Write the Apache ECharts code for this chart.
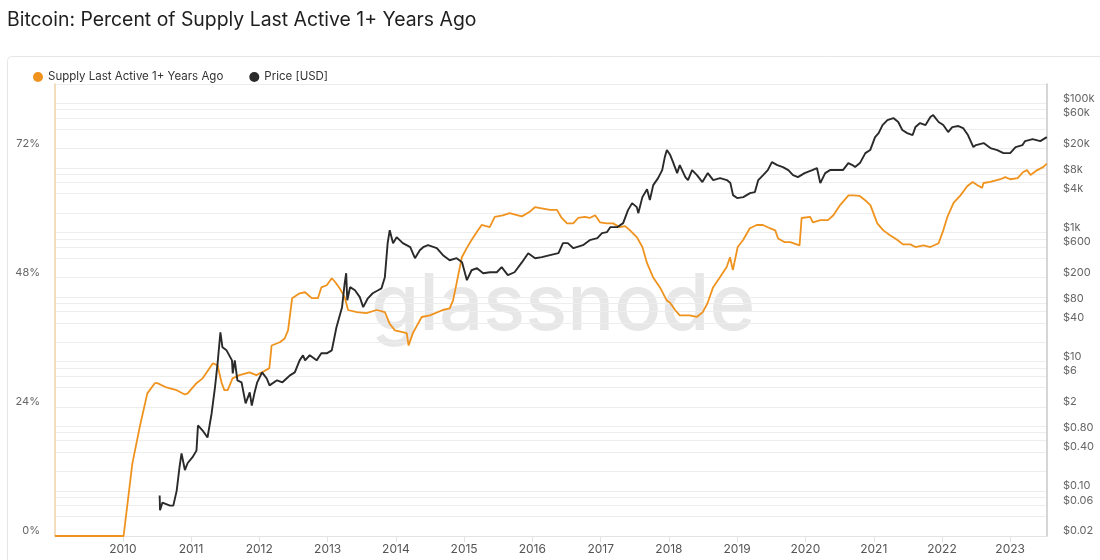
<!DOCTYPE html>
<html>
<head>
<meta charset="utf-8">
<script src="https://cdn.jsdelivr.net/npm/echarts@6/dist/echarts.min.js"></script>
<style>
html, body { margin: 0; padding: 0; background: #fff; }
#chart { width: 1100px; height: 560px; }
</style>
</head>
<body>
<div id="chart"></div>
<script>
// share of supply last moved 1+ years ago, in %
var supplyDates = ['2009-01-03','2010-01-05','2010-02-21','2010-04-01','2010-05-12','2010-06-21','2010-07-05','2010-08-22','2010-10-16','2010-11-29','2010-12-14',
	'2011-01-30','2011-03-04','2011-04-28','2011-05-23','2011-06-14','2011-06-28','2011-07-16','2011-08-11','2011-09-17','2011-11-10','2011-12-16',
	'2012-01-15','2012-02-24','2012-03-07','2012-04-20','2012-05-16','2012-06-03','2012-06-25','2012-08-04','2012-09-02','2012-10-08','2012-11-10','2012-11-28','2012-12-27',
	'2013-01-23','2013-02-10','2013-03-07','2013-04-02','2013-04-20','2013-06-06','2013-07-27','2013-09-20','2013-11-03','2013-11-28','2013-12-27',
	'2014-02-06','2014-02-28','2014-03-10','2014-04-02','2014-05-19','2014-07-02','2014-09-09','2014-10-16','2014-11-03','2014-11-22','2014-12-20',
	'2015-01-15','2015-02-10','2015-03-10','2015-04-05','2015-05-18','2015-06-14','2015-07-27','2015-09-02','2015-10-16','2015-11-06','2015-12-16',
	'2016-01-15','2016-02-20','2016-04-05','2016-05-12','2016-06-06','2016-07-05','2016-08-07','2016-09-02','2016-10-08','2016-11-03','2016-12-02','2016-12-28',
	'2017-02-03','2017-03-08','2017-04-12','2017-05-12','2017-06-07','2017-07-14','2017-08-12','2017-09-06','2017-10-08','2017-11-14','2017-12-20',
	'2018-01-08','2018-02-03','2018-02-28','2018-04-22','2018-05-30','2018-07-01','2018-07-27','2018-08-25','2018-10-01','2018-11-06','2018-11-24','2018-12-09',
	'2019-01-04','2019-02-02','2019-03-10','2019-04-16','2019-05-19','2019-06-25','2019-07-24','2019-08-08','2019-09-13','2019-10-12','2019-12-01','2019-12-12',
	'2020-01-27','2020-02-10','2020-03-22','2020-05-01','2020-05-30','2020-07-05','2020-08-19','2020-09-12','2020-10-18','2020-11-16','2020-12-14',
	'2021-01-20','2021-02-21','2021-03-29','2021-05-08','2021-06-06','2021-07-16','2021-08-12','2021-09-24','2021-10-31','2021-12-14',
	'2022-01-08','2022-01-30','2022-03-04','2022-04-10','2022-05-16','2022-06-14','2022-07-10','2022-08-04','2022-08-11','2022-09-17','2022-11-10','2022-12-06',
	'2023-01-01','2023-02-10','2023-03-10','2023-04-01','2023-04-20','2023-05-26','2023-06-28','2023-07-16'];
var supplyPct = [0,0,13.5,20.2,26.5,28.4,28.4,27.6,27.1,26.3,26.5,
	28.4,29.3,32.1,31.7,28.4,27.1,27.1,29.3,29.9,30.4,29.9,
	30.4,31.2,35.4,36.0,36.7,38.2,44.2,45.1,45.3,44.2,44.2,46.2,46.6,
	47.9,47.2,46.0,44.4,42.0,41.6,41.4,42.0,41.6,39.5,38.2,
	37.9,37.7,35.4,37.7,40.7,41.0,42.0,42.3,43.8,47.0,51.8,
	53.5,55.0,56.5,57.8,57.4,59.3,59.6,60.0,59.6,59.4,60.2,
	61.1,60.9,60.6,60.6,59.1,58.1,58.1,59.1,59.3,59.1,59.6,58.3,
	58.1,58.1,57.4,57.6,56.8,55.5,53.7,50.7,48.1,46.2,43.8,
	43.3,42.0,41.0,41.0,40.7,41.6,43.3,46.2,48.1,50.0,51.8,49.4,
	53.7,55.0,57.2,57.8,57.8,57.2,56.8,55.3,54.6,54.6,54.0,59.1,
	59.3,58.3,58.7,58.7,59.6,61.5,63.3,63.3,63.2,62.4,61.5,
	58.1,56.8,55.9,55.0,54.2,54.2,53.7,54.0,53.7,54.4,
	56.8,59.3,61.9,63.3,65.0,65.8,65.2,64.7,65.6,65.8,66.3,66.7,
	66.3,66.5,67.6,68.0,67.1,68.0,68.6,69.2];

// BTC price, USD
var priceDates = ['2010-07-17','2010-07-19','2010-08-01','2010-09-10','2010-09-28','2010-10-16','2010-10-31','2010-11-11','2010-11-29','2010-12-14',
	'2011-01-08','2011-01-30','2011-02-07','2011-03-04','2011-03-30','2011-04-21','2011-05-09','2011-05-23','2011-06-07','2011-06-18','2011-07-10','2011-08-08','2011-08-12','2011-08-23','2011-09-06','2011-09-28','2011-10-20','2011-11-11','2011-11-22','2011-12-06','2011-12-21',
	'2012-01-16','2012-02-10','2012-02-25','2012-04-05','2012-05-04','2012-05-26','2012-06-13','2012-07-09','2012-08-04','2012-08-22','2012-09-02','2012-09-27','2012-11-03','2012-11-28','2012-12-27',
	'2013-01-23','2013-02-17','2013-03-19','2013-04-02','2013-04-10','2013-04-16','2013-05-01','2013-05-27','2013-06-22','2013-07-10','2013-08-04','2013-08-30','2013-09-28','2013-10-16','2013-11-03','2013-11-18','2013-11-29','2013-12-17',
	'2014-01-05','2014-02-07','2014-03-19','2014-04-13','2014-05-09','2014-05-27','2014-06-22','2014-08-08','2014-09-10','2014-10-16','2014-11-22','2014-12-21',
	'2015-01-16','2015-02-10','2015-03-11','2015-04-13','2015-05-20','2015-06-25','2015-07-21','2015-08-23','2015-09-28','2015-11-07','2015-12-10',
	'2016-01-16','2016-02-21','2016-04-05','2016-05-20','2016-06-13','2016-07-09','2016-08-08','2016-09-28','2016-11-03','2016-12-14',
	'2017-01-08','2017-02-03','2017-02-21','2017-03-30','2017-05-01','2017-05-27','2017-06-18','2017-07-13','2017-07-21','2017-08-12','2017-09-06','2017-09-21','2017-10-09','2017-11-04','2017-11-26','2017-12-10','2017-12-21',
	'2018-01-08','2018-01-23','2018-02-14','2018-02-28','2018-03-30','2018-04-13','2018-05-05','2018-05-31','2018-06-29','2018-07-28','2018-08-26','2018-10-02','2018-11-07','2018-11-26','2018-12-10',
	'2019-01-01','2019-02-03','2019-03-11','2019-04-06','2019-04-24','2019-05-20','2019-06-14','2019-07-06','2019-08-04','2019-09-03','2019-10-02','2019-10-27','2019-11-22','2019-12-28',
	'2020-02-07','2020-03-03','2020-03-21','2020-04-16','2020-05-12','2020-06-21','2020-07-20','2020-08-18','2020-09-09','2020-09-23','2020-10-19','2020-11-17','2020-12-13',
	'2021-01-08','2021-01-27','2021-02-17','2021-03-15','2021-04-16','2021-05-12','2021-06-03','2021-06-29','2021-07-28','2021-08-12','2021-09-06','2021-10-05','2021-10-31','2021-11-15','2021-12-14',
	'2022-01-08','2022-02-03','2022-02-25','2022-03-30','2022-04-24','2022-05-20','2022-06-18','2022-07-02','2022-08-12','2022-09-17','2022-10-24','2022-11-26',
	'2023-01-01','2023-01-30','2023-03-08','2023-03-22','2023-05-01','2023-06-11','2023-07-16'];
var priceUsd = [0.085,0.05,0.066,0.059,0.059,0.10,0.23,0.38,0.21,0.27,
	0.33,0.42,1.03,0.86,0.67,1.58,4.0,9.4,28.6,16.7,15.0,10.5,6.6,10.5,5.15,4.8,2.26,3.36,2.1,3.24,4.8,
	6.85,5.5,4.3,5.15,4.8,5.5,6.15,6.85,10.5,12.6,10.5,12.6,10.5,13.5,13.5,
	15.0,34.2,69.8,164,235,89.5,143,128,100,70,96,115,128,137,204,686,1090,686,
	849,686,594,401,533,594,638,573,447,373,401,348,
	183,261,281,235,243,243,291,219,243,348,480,
	401,416,447,480,686,686,573,638,762,819,
	979,1014,1213,1213,1400,2228,2860,2478,2000,3540,4700,3180,5430,6980,9290,14760,18970,
	15850,12360,8340,11090,7230,6500,9290,7760,6050,8340,6500,6980,6500,5840,3800,
	3420,3540,4080,4240,6500,7760,9290,12360,11090,10330,9290,7760,7230,8340,
	9290,9980,5840,8340,9290,9290,9290,11910,11090,10330,11910,17020,18970,
	30140,34750,46240,55300,59430,51520,38700,34750,32400,43050,49650,46240,61520,66070,51520,
	46240,36040,43050,44670,41580,32400,21080,22650,24330,20370,18970,17020,
	17020,21080,22650,26120,28050,26120,30140];

var pctTicks = [0, 24, 48, 72];
var priceTicks = [0.02, 0.06, 0.1, 0.4, 0.8, 2, 6, 10, 40, 80, 200, 600, 1000, 4000, 8000, 20000, 60000, 100000];
var yearTicks = [2010, 2011, 2012, 2013, 2014, 2015, 2016, 2017, 2018, 2019, 2020, 2021, 2022, 2023];

// price grid lines: 1, 2, 4, 6, 8 in every decade
var priceGrid = [];
[-2, -1, 0, 1, 2, 3, 4, 5].forEach(function (p) {
	[1, 2, 4, 6, 8].forEach(function (m) {
		var v = +(m * Math.pow(10, p)).toPrecision(3);
		if (v >= 0.02 && v <= 200000) priceGrid.push(v);
	});
});

function ts(d) { return new Date(d + 'T00:00:00Z').getTime(); }
var yearStamps = yearTicks.map(function (y) { return Date.UTC(y, 0, 1); });

function fmtPrice(v) {
	if (v >= 1000) return '$' + (v / 1000) + 'k';
	if (v < 1) return '$' + v.toFixed(2);
	return '$' + v;
}

var chart = echarts.init(document.getElementById('chart'));
chart.setOption({
	animation: false,
	textStyle: { fontFamily: 'Inter' },
	title: {
		text: 'Bitcoin: Percent of Supply Last Active 1+ Years Ago',
		left: 2, top: 6,
		textStyle: { fontSize: 19.4, fontWeight: 'normal', color: '#1f1f1f', fontFamily: 'Inter' }
	},
	legend: {
		left: 28, top: 66,
		icon: 'circle', itemWidth: 10, itemHeight: 10, itemGap: 26,
		textStyle: { fontSize: 11.5, color: '#333' },
		data: ['Supply Last Active 1+ Years Ago', 'Price [USD]']
	},
	graphic: [
		{
			type: 'rect', z: -10, silent: true,
			shape: { x: 7.5, y: 56.5, width: 1110, height: 530, r: 4 },
			style: { fill: 'none', stroke: '#e6e6e6', lineWidth: 1 }
		},
		{
			type: 'text', z: -5, silent: true,
			left: 371, top: 268,
			style: { text: 'glassnode', font: '500 78px Inter', fill: '#e7e7e7' }
		}
	],
	grid: { left: 55, right: 53, top: 84, bottom: 24 },
	xAxis: {
		type: 'value',
		min: ts('2009-01-03'), max: ts('2023-07-17'),
		axisLine: { lineStyle: { color: '#e3e3e3' } },
		axisTick: { show: true, customValues: yearStamps, length: 6, lineStyle: { color: '#e3e3e3' } },
		splitLine: { show: false },
		axisLabel: {
			customValues: yearStamps,
			color: '#555', fontSize: 12, margin: 7,
			formatter: function (v) { return new Date(v).getUTCFullYear() + ''; }
		}
	},
	yAxis: [
		{
			type: 'value', min: 0, max: 84, position: 'left',
			axisLine: { show: true, lineStyle: { color: '#f0d2a6', width: 1.5 } },
			axisTick: { show: false },
			splitLine: { show: false },
			axisLabel: {
				customValues: pctTicks, color: '#666', fontSize: 11, margin: 15,
				verticalAlign: 'bottom', lineHeight: 10,
				formatter: function (v) { return v + '%'; }
			}
		},
		{
			type: 'log', logBase: 10, min: 0.02, max: 200000, position: 'right',
			axisLine: { show: true, lineStyle: { color: '#c8c8c8', width: 1.5 } },
			axisTick: { show: false, customValues: priceGrid },
			splitLine: { show: true, lineStyle: { color: '#ededed', width: 1 } },
			axisLabel: {
				customValues: priceTicks, color: '#666', fontSize: 11, margin: 16,
				verticalAlign: 'bottom', lineHeight: 10,
				formatter: fmtPrice
			}
		}
	],
	series: [
		{
			name: 'Supply Last Active 1+ Years Ago',
			type: 'line', yAxisIndex: 0, showSymbol: false,
			color: '#f0931e',
			lineStyle: { width: 1.8, color: '#f0931e' },
			data: supplyDates.map(function (d, i) { return [ts(d), supplyPct[i]]; })
		},
		{
			name: 'Price [USD]',
			type: 'line', yAxisIndex: 1, showSymbol: false,
			color: '#2a2a2a',
			lineStyle: { width: 1.9, color: '#2a2a2a' },
			data: priceDates.map(function (d, i) { return [ts(d), priceUsd[i]]; })
		}
	]
});
</script>
</body>
</html>
